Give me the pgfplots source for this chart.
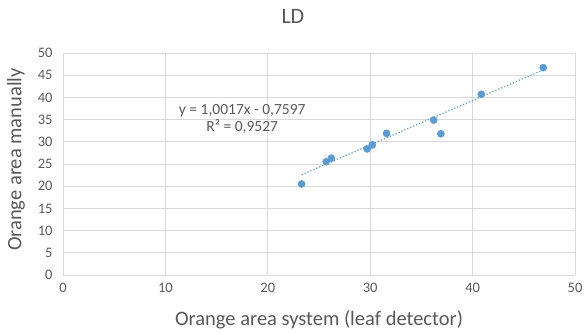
\documentclass[border=0pt]{standalone}
\usepackage{pgfplots}
\pgfplotsset{compat=1.18}
\usepackage{fontspec}
\setmainfont{Carlito}
\definecolor{txt}{HTML}{595959}
\definecolor{grd}{HTML}{D9D9D9}
\definecolor{pt}{HTML}{5B9BD5}
\begin{document}
\begin{tikzpicture}
\begin{axis}[
  scale only axis, width=512pt, height=222pt,
  xmin=0, xmax=50, ymin=0, ymax=50,
  xtick={0,10,...,50}, ytick={0,5,...,50},
  grid=major, major grid style={grd, line width=0.9pt},
  axis line style={grd, line width=0.9pt},
  axis x line*=bottom, axis y line*=left,
  tick style={draw=none},
  ticklabel style={font=\fontsize{14.5}{16}\selectfont, text=txt},
  xticklabel style={yshift=-5pt},
  yticklabel style={xshift=-7pt},
  /pgf/number format/assume math mode=true,
  xlabel={Orange area system (leaf detector)},
  ylabel={Orange area manually},
  label style={font=\fontsize{20.5}{22}\selectfont, text=txt},
  xlabel style={at={(axis description cs:0.5,0)}, anchor=center, yshift=-45pt},
  ylabel style={at={(axis description cs:-0.092,0.52)}, anchor=center},
  title={LD}, title style={at={(axis description cs:0.449,1)}, anchor=base, font=\fontsize{22}{24}\selectfont, text=txt, yshift=24pt},
  clip=false,
]
\addplot[only marks, mark=*, mark size=3.6pt, pt, mark options={draw=pt, fill=pt}] coordinates {
 (23.3,20.5) (25.7,25.5) (26.2,26.3) (29.7,28.4) (30.2,29.3) (31.6,31.9)
 (36.2,34.9) (36.9,31.8) (40.85,40.7) (46.9,46.7)
};
\addplot[pt, line width=1.2pt, dotted] coordinates {(23.3,22.58) (46.9,46.22)};
\node[font=\fontsize{15.5}{17}\selectfont, text=txt, align=center, inner sep=0pt] at (axis cs:17.5,35.2) {y = 1,0017x - 0,7597\\R² = 0,9527};
\coordinate (o) at (rel axis cs:0,0);
\coordinate (t) at (rel axis cs:1,1);
\end{axis}
\useasboundingbox ([shift={(-63pt,-58pt)}]o) rectangle ([shift={(11pt,53pt)}]t);
\end{tikzpicture}
\end{document}
